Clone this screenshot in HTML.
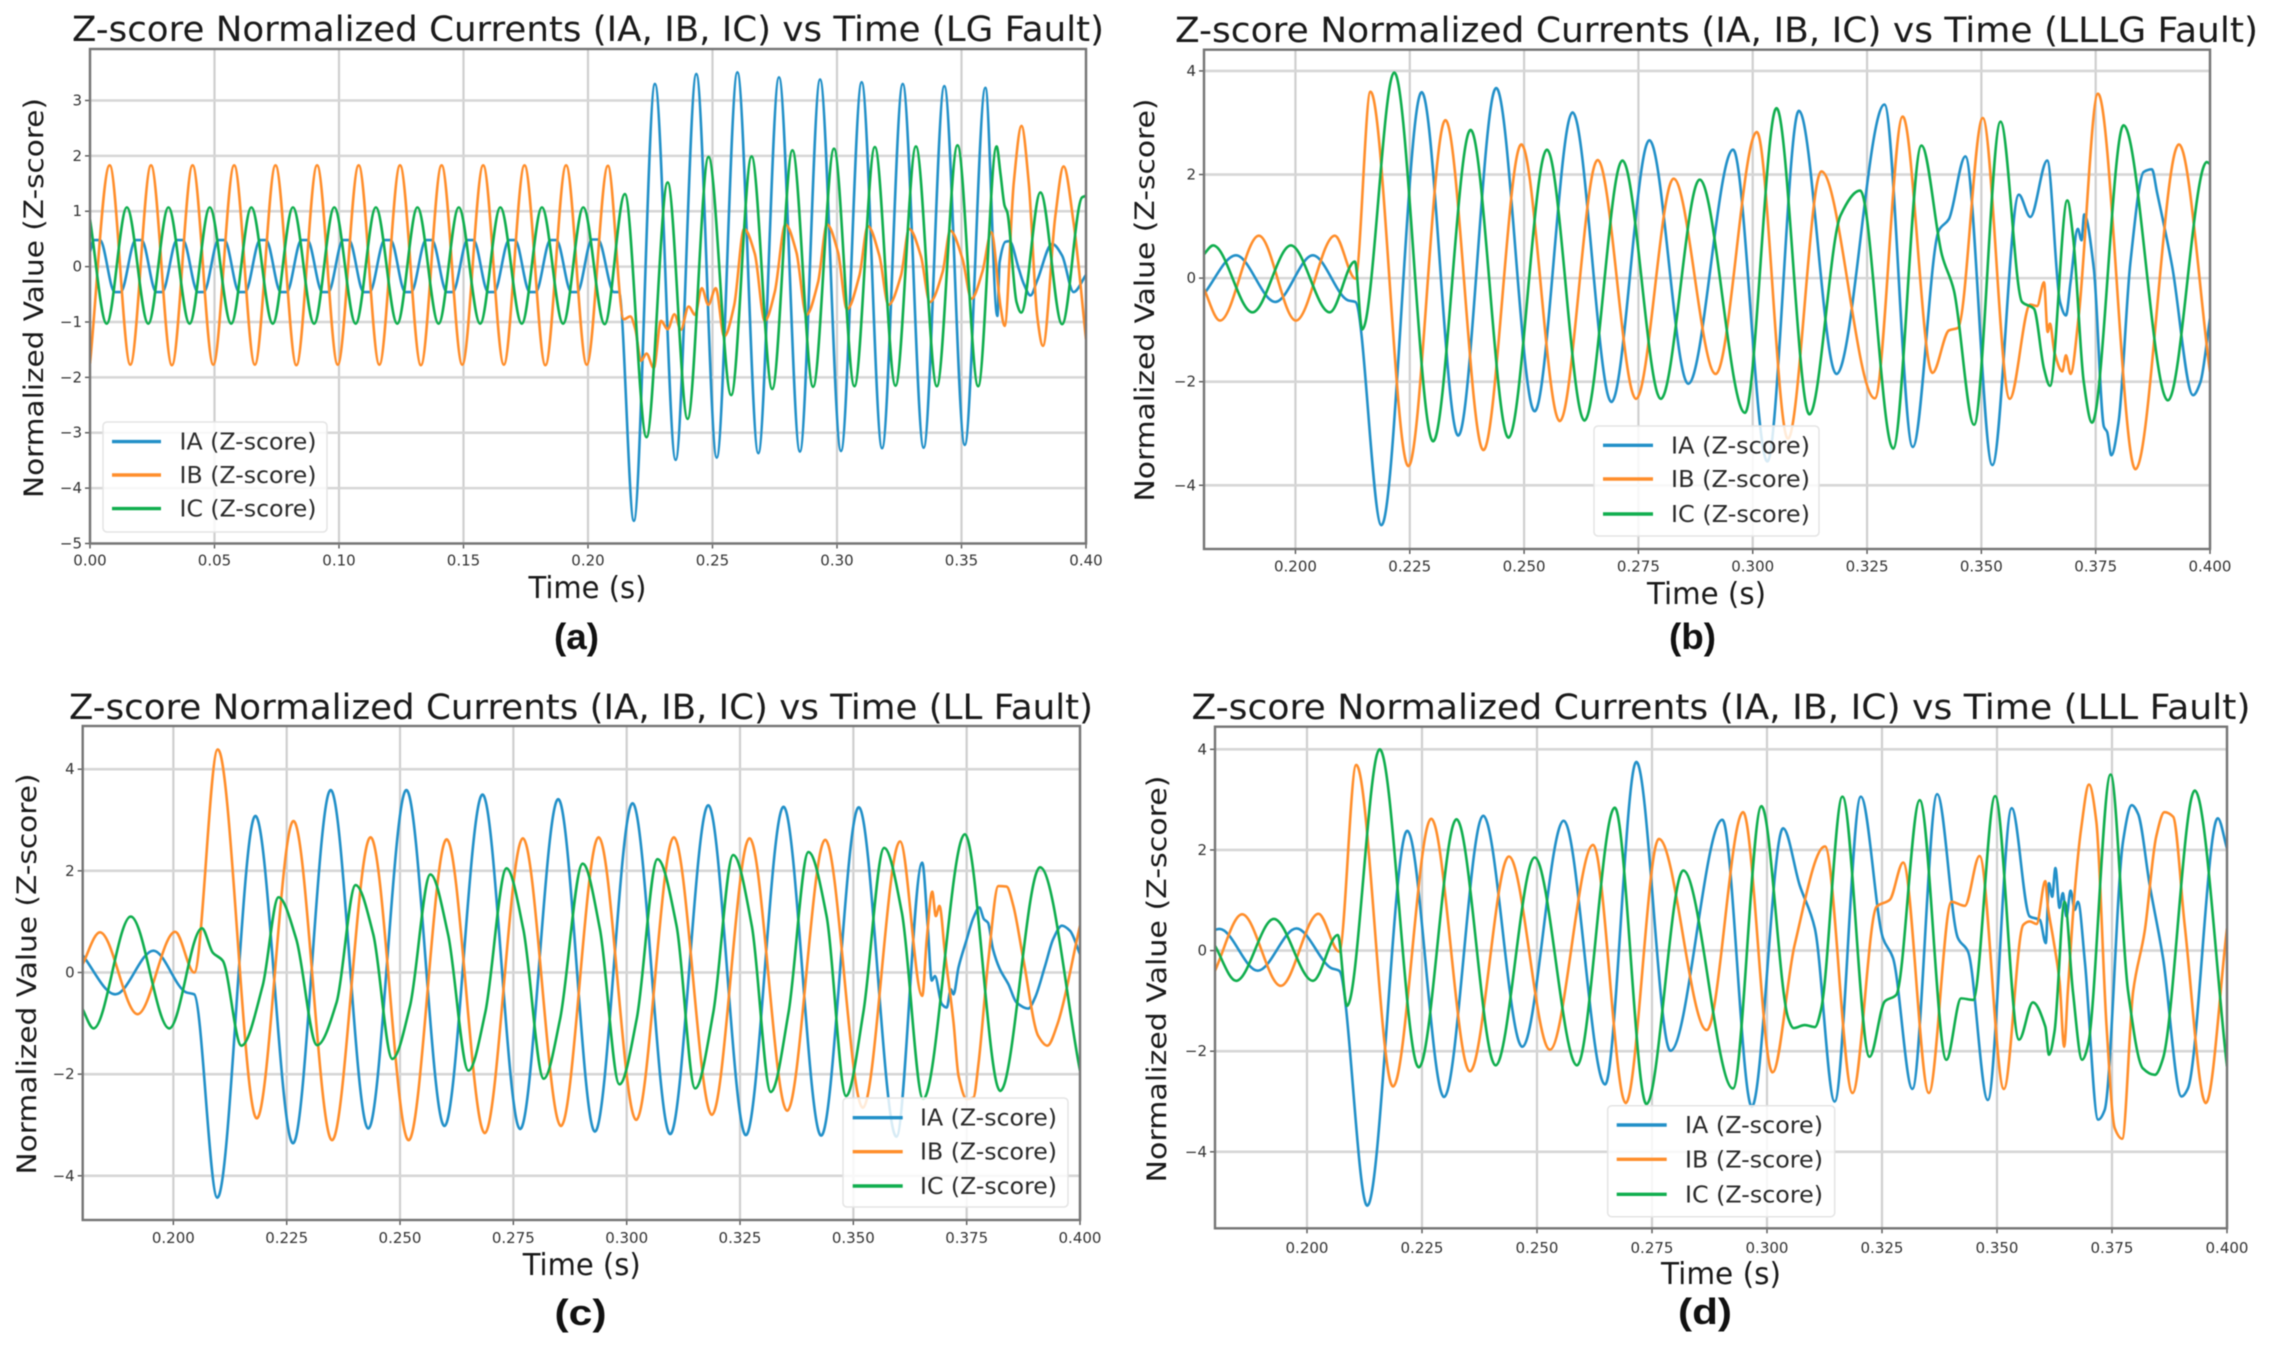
<!DOCTYPE html>
<html lang="en">
<head>
<meta charset="utf-8">
<title>Z-score Normalized Currents vs Time</title>
<style>
html,body{margin:0;padding:0;background:#fff;width:2270px;height:1348px;overflow:hidden}
svg{display:block;filter:blur(.5px)}
text{font-family:"DejaVu Sans","Liberation Sans",sans-serif;fill:#222}
.title{font-size:35px;fill:#1a1a1a}
.ylab{font-size:27px;text-anchor:middle;fill:#1a1a1a}
.xlab{font-size:30px;fill:#1a1a1a}
.cap{font-family:"Liberation Sans",sans-serif;font-weight:700;font-size:36px;fill:#111}
.leg{font-size:23px;fill:#2a2a2a}
.tick{font-size:15px;fill:#333}
.lbox{fill:rgba(255,255,255,.82);stroke:#e4e4e4;stroke-width:1.5}
.ll{stroke-width:3.4;fill:none}
</style>
</head>
<body>
<svg id="figure" width="2270" height="1348" viewBox="0 0 2270 1348" xmlns="http://www.w3.org/2000/svg">
<rect x="0" y="0" width="2270" height="1348" fill="#fff"/>

<g id="panel-a">
  <g id="a-plot"></g>
  <text class="title" x="72" y="41" textLength="1032" lengthAdjust="spacingAndGlyphs">Z-score Normalized Currents (IA, IB, IC) vs Time (LG Fault)</text>
  <text class="ylab" transform="translate(43 298) rotate(-90)" textLength="400" lengthAdjust="spacingAndGlyphs">Normalized Value (Z-score)</text>
  <text class="xlab" x="528.5" y="598" textLength="118" lengthAdjust="spacingAndGlyphs">Time (s)</text>
  <text class="cap" x="554" y="649" textLength="45" lengthAdjust="spacingAndGlyphs">(a)</text>
  <g>
    <rect class="lbox" x="103" y="422" width="224" height="110" rx="4"/>
    <line class="ll" x1="112" x2="161" y1="441.6" y2="441.6" stroke="#2290c8"/>
    <text class="leg" x="179.5" y="449.6" textLength="137" lengthAdjust="spacingAndGlyphs">IA (Z-score)</text>
    <line class="ll" x1="112" x2="161" y1="475" y2="475" stroke="#ff8e2b"/>
    <text class="leg" x="179.5" y="483" textLength="137" lengthAdjust="spacingAndGlyphs">IB (Z-score)</text>
    <line class="ll" x1="112" x2="161" y1="508.6" y2="508.6" stroke="#10ae4e"/>
    <text class="leg" x="179.5" y="516.6" textLength="137" lengthAdjust="spacingAndGlyphs">IC (Z-score)</text>
  </g>
</g>

<g id="panel-b">
  <g id="b-plot"></g>
  <text class="title" x="1175" y="42" textLength="1083" lengthAdjust="spacingAndGlyphs">Z-score Normalized Currents (IA, IB, IC) vs Time (LLLG Fault)</text>
  <text class="ylab" transform="translate(1154 300) rotate(-90)" textLength="403" lengthAdjust="spacingAndGlyphs">Normalized Value (Z-score)</text>
  <text class="xlab" x="1647" y="604" textLength="119" lengthAdjust="spacingAndGlyphs">Time (s)</text>
  <text class="cap" x="1669" y="649" textLength="47" lengthAdjust="spacingAndGlyphs">(b)</text>
  <g>
    <rect class="lbox" x="1594" y="426" width="225" height="110" rx="4"/>
    <line class="ll" x1="1603" x2="1653" y1="445.3" y2="445.3" stroke="#2290c8"/>
    <text class="leg" x="1671" y="453.3" textLength="139" lengthAdjust="spacingAndGlyphs">IA (Z-score)</text>
    <line class="ll" x1="1603" x2="1653" y1="479" y2="479" stroke="#ff8e2b"/>
    <text class="leg" x="1671" y="487" textLength="139" lengthAdjust="spacingAndGlyphs">IB (Z-score)</text>
    <line class="ll" x1="1603" x2="1653" y1="514" y2="514" stroke="#10ae4e"/>
    <text class="leg" x="1671" y="522" textLength="139" lengthAdjust="spacingAndGlyphs">IC (Z-score)</text>
  </g>
</g>

<g id="panel-c">
  <g id="c-plot"></g>
  <text class="title" x="69" y="719" textLength="1024" lengthAdjust="spacingAndGlyphs">Z-score Normalized Currents (IA, IB, IC) vs Time (LL Fault)</text>
  <text class="ylab" transform="translate(36 974) rotate(-90)" textLength="401" lengthAdjust="spacingAndGlyphs">Normalized Value (Z-score)</text>
  <text class="xlab" x="522.7" y="1275" textLength="118" lengthAdjust="spacingAndGlyphs">Time (s)</text>
  <text class="cap" x="554.5" y="1325" textLength="52" lengthAdjust="spacingAndGlyphs">(c)</text>
  <g>
    <rect class="lbox" x="843" y="1098" width="225" height="109" rx="4"/>
    <line class="ll" x1="852.7" x2="902.7" y1="1117.7" y2="1117.7" stroke="#2290c8"/>
    <text class="leg" x="920" y="1125.7" textLength="137" lengthAdjust="spacingAndGlyphs">IA (Z-score)</text>
    <line class="ll" x1="852.7" x2="902.7" y1="1151.7" y2="1151.7" stroke="#ff8e2b"/>
    <text class="leg" x="920" y="1159.7" textLength="137" lengthAdjust="spacingAndGlyphs">IB (Z-score)</text>
    <line class="ll" x1="852.7" x2="902.7" y1="1186" y2="1186" stroke="#10ae4e"/>
    <text class="leg" x="920" y="1194" textLength="137" lengthAdjust="spacingAndGlyphs">IC (Z-score)</text>
  </g>
</g>

<g id="panel-d">
  <g id="d-plot"></g>
  <text class="title" x="1191.5" y="719" textLength="1059" lengthAdjust="spacingAndGlyphs">Z-score Normalized Currents (IA, IB, IC) vs Time (LLL Fault)</text>
  <text class="ylab" transform="translate(1166 979) rotate(-90)" textLength="407" lengthAdjust="spacingAndGlyphs">Normalized Value (Z-score)</text>
  <text class="xlab" x="1661" y="1284" textLength="120" lengthAdjust="spacingAndGlyphs">Time (s)</text>
  <text class="cap" x="1678" y="1324" textLength="54" lengthAdjust="spacingAndGlyphs">(d)</text>
  <g>
    <rect class="lbox" x="1607.7" y="1105.7" width="227" height="111" rx="4"/>
    <line class="ll" x1="1616.7" x2="1666.7" y1="1125" y2="1125" stroke="#2290c8"/>
    <text class="leg" x="1685" y="1133" textLength="138" lengthAdjust="spacingAndGlyphs">IA (Z-score)</text>
    <line class="ll" x1="1616.7" x2="1666.7" y1="1159.3" y2="1159.3" stroke="#ff8e2b"/>
    <text class="leg" x="1685" y="1167.3" textLength="138" lengthAdjust="spacingAndGlyphs">IB (Z-score)</text>
    <line class="ll" x1="1616.7" x2="1666.7" y1="1194.3" y2="1194.3" stroke="#10ae4e"/>
    <text class="leg" x="1685" y="1202.3" textLength="138" lengthAdjust="spacingAndGlyphs">IC (Z-score)</text>
  </g>
</g>
</svg>

<script>
// ---- Tick labels ----
const aXTicks = [0, 50, 100, 150, 200, 250, 300, 350, 400];
const aXTickLabels = ["0.00", "0.05", "0.10", "0.15", "0.20", "0.25", "0.30", "0.35", "0.40"];
const aYTicks = [-5, -4, -3, -2, -1, 0, 1, 2, 3];
const zoomXTicks = [200, 225, 250, 275, 300, 325, 350, 375, 400];
const zoomXTickLabels = ["0.200", "0.225", "0.250", "0.275", "0.300", "0.325", "0.350", "0.375", "0.400"];
const zoomYTicks = [-4, -2, 0, 2, 4];

// ---- Panel (a) LG fault: time in ms, value in z-score ----
const aIA_t = [0,
1.6,4,9.9,12.3,
18.3,20.7,26.6,29,
34.9,37.3,43.3,45.7,
51.6,54,59.9,62.3,
68.3,70.7,76.6,79,
84.9,87.3,93.3,95.7,
101.6,104,109.9,112.3,
118.3,120.7,126.6,129,
134.9,137.3,143.3,145.7,
151.6,154,159.9,162.3,
168.3,170.7,176.6,179,
184.9,187.3,193.3,195.7,
201.6,204,210.4,212.4,
218.4,226.9,235.2,243.5,251.7,260,268.4,276.7,285.1,293.2,
301.6,309.9,318.1,326.4,334.8,343.1,351.3,359.6,364.4,365.3,
367.7,369.3,373,375,377.7,380.4,386.4,390.4,395,400];
const aIA_v = [.27,
.48,.48,-.46,-.46,
.48,.48,-.46,-.46,
.48,.48,-.46,-.46,
.48,.48,-.46,-.46,
.48,.48,-.46,-.46,
.48,.48,-.46,-.46,
.48,.48,-.46,-.46,
.48,.48,-.46,-.46,
.48,.48,-.46,-.46,
.48,.48,-.46,-.46,
.48,.48,-.46,-.46,
.48,.48,-.46,-.46,
.49,.49,-.46,-.46,
-4.59,3.30,-3.49,3.48,-3.45,3.51,-3.37,3.42,-3.34,3.38,
-3.33,3.33,-3.28,3.30,-3.27,3.26,-3.22,3.23,-.89,.08,
.45,.46,-.04,-.31,-.52,-.25,.41,.2,-.46,-.15];

const aIB_t = [0,7.9,16.2,24.5,32.9,41.2,49.5,57.9,66.2,74.5,
82.9,91.2,99.5,107.9,116.2,124.5,132.9,141.2,149.5,157.9,
166.2,174.5,182.9,191.2,199.5,208,
214.4,217,219,221.3,223.5,226.4,229.3,232,234.7,237.3,
240.4,243,245.7,248.3,251.3,254.7,258.7,262.7,267,271,
275,279.3,283.7,287.7,292.4,296,300.4,304,309,312.4,
317,320.7,325.7,329,333.7,337.3,342.4,345.5,350.4,354,
358.4,362,365.7,367.3,371,374.1,377,380.4,382.7,387.7,
391,395,400];
const aIB_v = [-1.75,1.83,-1.77,1.83,-1.78,1.83,-1.77,1.83,-1.77,1.83,
-1.78,1.83,-1.77,1.83,-1.77,1.83,-1.78,1.83,-1.77,1.83,
-1.77,1.83,-1.78,1.83,-1.77,1.82,
-.95,-.90,-1.13,-1.70,-1.57,-1.83,-.98,-1.13,-.86,-1.14,
-.72,-.87,-.39,-.69,-.39,-1.26,-.70,.68,.23,-.98,
-.46,.76,.26,-.87,-.28,.76,.26,-.77,-.16,.73,
.2,-.69,-.16,.68,.19,-.64,-.10,.65,.14,-.58,
-.09,.62,-.73,-1.07,1.52,2.54,1.52,-.89,-1.43,.92,
1.81,.8,-1.31];

const aIC_t = [0,6.7,14.8,23.4,31.5,40,48.1,56.7,64.8,73.4,
81.5,90,98.1,106.7,114.8,123.4,131.5,140,148.1,156.7,
164.8,173.4,181.5,190,198.1,206.7,214.8,223.5,232,240,
248.4,257.5,265.7,274,282.1,290.4,298.8,307,315.2,323.5,
331.7,340.1,348.4,356.7,364.1,365.7,367.3,368.4,372.1,374,
381.7,390.4,398.4,400];
const aIC_v = [.85,-1.03,1.07,-1.03,1.07,-1.03,1.07,-1.03,1.07,-1.03,
1.07,-1.03,1.07,-1.03,1.07,-1.03,1.07,-1.03,1.07,-1.03,
1.07,-1.03,1.07,-1.03,1.07,-1.04,1.31,-3.08,1.52,-2.75,
1.98,-2.32,1.99,-2.21,2.10,-2.17,2.13,-2.16,2.16,-2.15,
2.17,-2.16,2.19,-2.16,2.17,1.66,1.10,.98,-.64,-.83,
1.34,-1.04,1.25,1.28];

// ---- Panel (b) LLLG fault ----
const bIA_t = [179.8,187,195.6,203.8,211.5,213.1,218.8,227.6,235.6,243.9,
252.3,260.6,269.1,277.4,285.9,295.7,303.2,310.1,318.3,328.8,
335,340.7,342.9,346.5,352.4,358.2,360.7,364.4,367.2,368.5,
369.5,371.1,371.9,372.5,374.6,376.8,377.5,378.4,380,382.6,
385.5,387.3,388.4,391.7,396.3,397.9,400];
const bIA_v = [-.33,.44,-.46,.44,-.43,-.46,-4.77,3.59,-3.04,3.67,
-2.57,3.2,-2.39,2.66,-2.04,2.48,-3.54,3.23,-1.85,3.35,
-3.26,.92,1.14,2.35,-3.61,1.61,1.18,2.27,-.46,-.72,
-.08,.95,.73,1.23,.18,-2.87,-2.97,-3.42,-2.78,.31,
2.05,2.10,1.66,.24,-2.26,-2.01,-.78];

const bIB_t = [179.8,183.5,192,200.1,208.6,213.1,216.4,224.7,232.8,241.1,
249.4,257.8,266.1,274.5,282.7,291.9,300.9,307.7,315,326.7,
332.8,339.3,342.9,344.9,350.3,356.2,360.7,362.2,363.7,364.5,
365,366,367.7,368.5,369.5,371.3,375.5,383.7,393.2,400];
const bIB_v = [-.17,-.82,.82,-.82,.82,-.01,3.60,-3.63,3.05,-3.32,
2.58,-2.76,2.28,-2.33,1.92,-1.85,2.82,-3.1,2.06,-2.32,
3.12,-1.83,-1.01,-.96,3.09,-2.33,-.51,-.54,-.08,-1.04,
-.88,-1.44,-1.8,-1.49,-1.85,-.72,3.56,-3.69,2.58,-1.81];

const bIC_t = [179.8,182,190.6,199,207.5,213,214.6,221.6,230.1,238.3,
246.6,255,263.2,271.5,279.9,288.4,298.3,305.2,312.4,319.2,
323.5,330.7,336.9,341.4,344,348.4,354.2,358.9,361.5,363.7,
365,368.8,370.1,372.4,374.2,381.1,390.8,399.3,400];
const bIC_v = [.44,.63,-.66,.63,-.66,.32,-.99,3.97,-3.15,2.86,
-3.08,2.48,-2.75,2.27,-2.33,1.90,-2.60,3.28,-2.63,1.21,
1.69,-3.29,2.56,.44,-.24,-2.83,3.02,-.46,-.59,-1.75,
-2.08,1.5,.76,-2.01,-2.79,2.95,-2.36,2.24,2.2];

// ---- Panel (c) LL fault ----
const cIA_t = [179.8,187.2,195.6,202.8,204.6,209.7,218.1,226.4,234.7,243,
251.4,259.8,268.2,276.5,284.9,293,301.3,309.6,318,326.3,
334.6,342.9,351.2,359.5,365.2,366.4,367.3,368,369.5,370.6,
371.5,372.1,373.2,374.9,376.5,377.8,378.8,379.7,380.8,382.3,
384.2,386,388.6,390.1,392.3,394.1,396,397.8,400];
const cIA_v = [.36,-.43,.43,-.39,-.43,-4.43,3.08,-3.36,3.59,-3.07,
3.59,-3.02,3.50,-3.08,3.41,-3.13,3.33,-3.18,3.29,-3.2,
3.26,-3.21,3.25,-3.23,2.16,.92,-.16,-.07,-.62,-.69,
-.33,-.43,.1,.62,1.08,1.28,1.05,.98,.46,.07,
-.23,-.59,-.71,-.49,.13,.66,.92,.82,.36];

const cIB_t = [179.8,183.8,192.1,200.4,204.6,209.8,218.4,226.5,235,243.5,
251.9,260.3,268.7,277.1,285.5,293.8,302.1,310.4,318.8,327.1,
335.4,343.8,352.1,360.3,365.2,366.2,367.4,368.2,369,370.2,
372.1,373.2,375,376.5,377.6,379.8,382,383.8,385.3,387.5,
390.8,392.8,394.9,400];
const cIB_v = [.13,.79,-.82,.8,0,4.39,-2.87,2.98,-3.30,2.66,
-3.30,2.62,-3.16,2.64,-3.02,2.66,-2.9,2.66,-2.8,2.64,
-2.72,2.61,-2.66,2.58,-.46,.66,1.59,1.11,1.31,.39,
-.98,-2.03,-2.49,-2.46,-1.8,.26,1.7,1.69,1.31,.26,
-1.25,-1.44,-1.05,.92];

const cIC_t = [179.8,182.4,190.6,199.1,206.3,208.7,210.9,215,219.7,223.2,
227.1,231.7,236,240.2,244.1,248.3,252.2,256.7,260.6,265.1,
268.8,273.5,277.2,281.7,285.3,290.3,294.1,298.4,302.2,306.8,
311,315.1,319.1,323.5,327.6,331.8,335.7,340.1,344.1,348.4,
352.2,356.8,360.7,365.4,374.6,382.4,391.2,400];
const cIC_v = [-.69,-1.1,1.1,-1.1,.87,.39,.23,-1.44,-.26,1.48,
.66,-1.43,-.59,1.72,.75,-1.7,-.66,1.93,.75,-1.93,
-.79,2.05,.85,-2.09,-.92,2.14,.85,-2.2,-.92,2.23,
.92,-2.28,-.79,2.31,.92,-2.35,-.79,2.37,1.11,-2.43,
-.79,2.45,1.18,-2.49,2.72,-2.33,2.07,-1.93];

// ---- Panel (d) LLL fault ----
const dIA_t = [179.9,181,189.3,197.7,205.3,207,213.1,221.8,229.8,238.3,
246.8,255.8,264.8,271.6,279,290.3,296.7,303.5,307.1,310.4,
314.7,320.4,325.2,327.4,331.6,337,341.5,343.7,348,353.2,
357.1,359.3,360.6,361.3,362,362.7,363.6,364.3,365.1,366,
366.9,367.6,369.1,372,373.4,377.4,379.3,380.7,383.2,386.1,
390.1,391.5,398,400];
const dIA_v = [.41,.43,-.40,.44,-.35,-.40,-5.07,2.38,-2.91,2.68,
-1.91,2.58,-2.66,3.75,-1.99,2.6,-3.1,2.43,1.3,.44,
-3,3.06,.25,-.15,-2.75,3.11,.25,-.02,-2.97,2.83,
.68,.61,.15,1.34,1.07,1.64,.85,1.14,.68,1.19,
.81,.97,-.22,-3.36,-3.17,2.17,2.89,2.71,1.3,-.15,
-2.9,-2.74,2.63,2.03];

const dIB_t = [179.9,185.9,194.3,202.5,207,210.7,218.7,227,235.4,243.9,
252.8,262.2,269.3,276.5,286.9,294.8,301.2,306,312.6,318.6,
323.8,326.7,329.6,335.2,340.1,343,346.2,351.5,355.7,357.1,
358.6,360.5,361.1,362.2,363.6,364.6,365.4,366.9,368.3,370,
371.6,373.8,375.6,377.2,379.6,382.1,384.6,386.4,388.3,390.8,
395.4,400];
const dIB_v = [-.42,.72,-.7,.73,-.02,3.69,-2.7,2.62,-2.4,1.87,
-1.97,2.1,-3.03,2.22,-1.58,2.75,-2.42,.11,2.07,-2.83,
.87,1.01,1.75,-2.83,.97,.89,1.88,-2.75,.51,.58,
.53,1.38,.84,.25,-.62,-1.91,-.81,1.17,2.43,3.3,
2.56,-1.48,-3.53,-3.74,-.81,.38,2.26,2.75,2.66,.51,
-3.03,.44];

const dIC_t = [179.9,184.6,192.8,201.3,206.7,208.7,215.8,224.3,232.5,241,
249.5,258.7,266.9,273.8,281.8,292.6,298.8,304.6,305.8,308.2,
310.4,311.8,316.4,322.3,325.6,328.1,333.2,339,342.2,344.8,
349.6,354.8,357.8,360.5,361.3,362.5,364.7,366.5,368.5,369.8,
374.7,378.5,381.7,384.3,386.1,393,400];
const dIC_v = [.11,-.6,.63,-.6,.31,-1.1,4.0,-2.32,2.61,-2.28,
1.85,-2.28,2.84,-3.05,1.59,-2.74,2.87,-1.34,-1.54,-1.48,
-1.52,-1.15,3.06,-2.11,-1.01,-.88,2.99,-2.17,-.95,-.98,
3.07,-1.77,-1.03,-1.51,-2.07,-1.61,.97,-.81,-2.17,-1.87,
3.5,-.81,-2.34,-2.47,-2.14,3.18,-2.3];

// ---- Rendering ----
const NS = "http://www.w3.org/2000/svg";
const seriesColors = {IA: "#2290c8", IB: "#ff8e2b", IC: "#10ae4e"};

function make(tag, parent) {
  const el = document.createElementNS(NS, tag);
  parent.appendChild(el);
  return el;
}

// Monotone cubic path through the read-off samples, placed via the axis functions.
function seriesPath(ts, vs, xAxis, yAxis) {
  const n = Math.min(ts.length, vs.length);
  const xs = [], ys = [];
  for (let i = 0; i < n; i++) { xs.push(xAxis(ts[i])); ys.push(yAxis(vs[i])); }
  const s = [], m = new Array(n).fill(0);
  for (let i = 0; i < n - 1; i++) s.push((ys[i + 1] - ys[i]) / Math.max(xs[i + 1] - xs[i], 1e-6));
  m[0] = s[0]; m[n - 1] = s[n - 2];
  for (let i = 1; i < n - 1; i++) {
    if (s[i - 1] * s[i] <= 0) m[i] = 0;
    else m[i] = 2 * s[i - 1] * s[i] / (s[i - 1] + s[i]);
  }
  let d = "M" + xs[0].toFixed(2) + " " + ys[0].toFixed(2);
  for (let i = 0; i < n - 1; i++) {
    const h = (xs[i + 1] - xs[i]) / 3;
    d += "C" + (xs[i] + h).toFixed(2) + " " + (ys[i] + m[i] * h).toFixed(2) + " " +
      (xs[i + 1] - h).toFixed(2) + " " + (ys[i + 1] - m[i + 1] * h).toFixed(2) + " " +
      xs[i + 1].toFixed(2) + " " + ys[i + 1].toFixed(2);
  }
  return d;
}

function drawPanel(cfg) {
  const root = document.getElementById(cfg.id + "-plot");
  const xAxis = t => cfg.left + (t - cfg.xMin) / (cfg.xMax - cfg.xMin) * (cfg.right - cfg.left);
  const yAxis = v => cfg.top + (cfg.yMax - v) / (cfg.yMax - cfg.yMin) * (cfg.bottom - cfg.top);

  const clip = make("clipPath", root);
  clip.setAttribute("id", cfg.id + "-clip");
  const clipRect = make("rect", clip);
  clipRect.setAttribute("x", cfg.left);
  clipRect.setAttribute("y", cfg.top);
  clipRect.setAttribute("width", cfg.right - cfg.left);
  clipRect.setAttribute("height", cfg.bottom - cfg.top);

  cfg.xTicks.forEach((t, i) => {
    const x = xAxis(t);
    const grid = make("line", root);
    
    
    grid.setAttribute("x1", x); grid.setAttribute("x2", x);
    grid.setAttribute("y1", cfg.top); grid.setAttribute("y2", cfg.bottom);
    grid.setAttribute("stroke", "#cfcfcf");
    grid.setAttribute("stroke-width", "2.2");
    const tick = make("line", root);
    
    
    tick.setAttribute("x1", x); tick.setAttribute("x2", x);
    tick.setAttribute("y1", cfg.bottom); tick.setAttribute("y2", cfg.bottom + 5);
    tick.setAttribute("stroke", "#555");
    tick.setAttribute("stroke-width", "1.4");
    const label = make("text", root);
    
    
    label.setAttribute("class", "tick");
    label.setAttribute("x", x);
    label.setAttribute("y", cfg.xLabelY);
    label.setAttribute("text-anchor", "middle");
    label.textContent = cfg.xLabels[i];
  });

  cfg.yTicks.forEach(v => {
    const y = yAxis(v);
    const grid = make("line", root);
    
    
    grid.setAttribute("x1", cfg.left); grid.setAttribute("x2", cfg.right);
    grid.setAttribute("y1", y); grid.setAttribute("y2", y);
    grid.setAttribute("stroke", "#d6d6d6");
    grid.setAttribute("stroke-width", "2.6");
    const tick = make("line", root);
    
    
    tick.setAttribute("x1", cfg.left - 5); tick.setAttribute("x2", cfg.left);
    tick.setAttribute("y1", y); tick.setAttribute("y2", y);
    tick.setAttribute("stroke", "#555");
    tick.setAttribute("stroke-width", "1.4");
    const label = make("text", root);
    
    
    label.setAttribute("class", "tick");
    label.setAttribute("x", cfg.left - 8);
    label.setAttribute("y", y + 5);
    label.setAttribute("text-anchor", "end");
    label.textContent = (v < 0 ? "\u2212" : "") + Math.abs(v);
  });

  cfg.series.forEach(sr => {
    const line = make("path", root);
    
    
    line.setAttribute("d", seriesPath(sr.t, sr.v, xAxis, yAxis));
    line.setAttribute("fill", "none");
    line.setAttribute("stroke", seriesColors[sr.name]);
    line.setAttribute("stroke-width", "2.6");
    line.setAttribute("stroke-linejoin", "round");
    line.setAttribute("clip-path", "url(#" + cfg.id + "-clip)");
  });

  const spine = make("rect", root);
  
  
  spine.setAttribute("x", cfg.left);
  spine.setAttribute("y", cfg.top);
  spine.setAttribute("width", cfg.right - cfg.left);
  spine.setAttribute("height", cfg.bottom - cfg.top);
  spine.setAttribute("fill", "none");
  spine.setAttribute("stroke", "#757575");
  spine.setAttribute("stroke-width", "2.4");
}

drawPanel({id: "a", left: 90, right: 1086, top: 49, bottom: 543.5,
  xMin: 0, xMax: 400, yMin: -5, yMax: 3.93, xLabelY: 565.5,
  xTicks: aXTicks, xLabels: aXTickLabels, yTicks: aYTicks,
  series: [{name: "IA", t: aIA_t, v: aIA_v}, {name: "IB", t: aIB_t, v: aIB_v}, {name: "IC", t: aIC_t, v: aIC_v}]});
drawPanel({id: "b", left: 1204, right: 2210, top: 49.7, bottom: 549,
  xMin: 180, xMax: 400, yMin: -5.23, yMax: 4.41, xLabelY: 571.5,
  xTicks: zoomXTicks, xLabels: zoomXTickLabels, yTicks: zoomYTicks,
  series: [{name: "IA", t: bIA_t, v: bIA_v}, {name: "IB", t: bIB_t, v: bIB_v}, {name: "IC", t: bIC_t, v: bIC_v}]});
drawPanel({id: "c", left: 82.7, right: 1080, top: 726, bottom: 1220,
  xMin: 180, xMax: 400, yMin: -4.87, yMax: 4.85, xLabelY: 1243,
  xTicks: zoomXTicks, xLabels: zoomXTickLabels, yTicks: zoomYTicks,
  series: [{name: "IA", t: cIA_t, v: cIA_v}, {name: "IB", t: cIB_t, v: cIB_v}, {name: "IC", t: cIC_t, v: cIC_v}]});
drawPanel({id: "d", left: 1215, right: 2227, top: 726.7, bottom: 1228.3,
  xMin: 180, xMax: 400, yMin: -5.52, yMax: 4.45, xLabelY: 1253,
  xTicks: zoomXTicks, xLabels: zoomXTickLabels, yTicks: zoomYTicks,
  series: [{name: "IA", t: dIA_t, v: dIA_v}, {name: "IB", t: dIB_t, v: dIB_v}, {name: "IC", t: dIC_t, v: dIC_v}]});
</script>
</body>
</html>
